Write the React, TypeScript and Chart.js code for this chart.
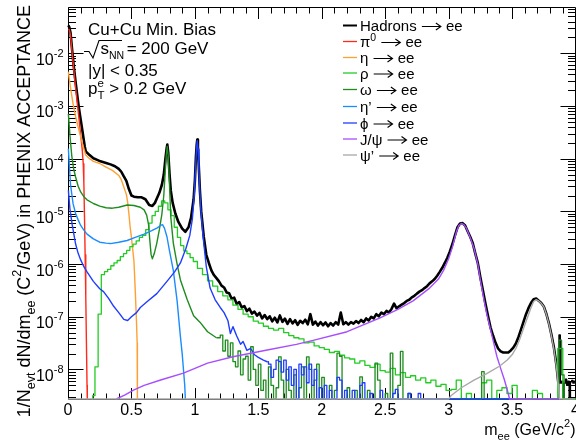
import React, { useEffect, useRef } from 'react';
import { Chart, registerables } from 'chart.js';

Chart.register(...registerables);

const FONT = '"Liberation Sans", Arial, Helvetica, sans-serif';
const X_MIN = 0;
const X_MAX = 4;
const Y_MIN = 2.75e-9;
const Y_MAX = 0.074;

// ---------------- data (m_ee in GeV/c^2, yield) ----------------
const hadronsMass = [0.003, 0.01, 0.02, 0.033, 0.045, 0.059, 0.072, 0.085, 0.1, 0.112, 0.124, 0.132, 0.14, 0.17, 0.2, 0.23, 0.256, 0.3, 0.335, 0.37, 0.4, 0.42, 0.44, 0.46, 0.48, 0.5, 0.52, 0.55, 0.58, 0.61, 0.64, 0.665, 0.685, 0.7, 0.72, 0.74, 0.755, 0.768, 0.778, 0.783, 0.79, 0.8, 0.81, 0.825, 0.846, 0.87, 0.9, 0.925, 0.95, 0.97, 0.99, 1.0, 1.008, 1.014, 1.019, 1.024, 1.03, 1.04, 1.05, 1.07, 1.09, 1.11,
  1.13, 1.15, 1.17, 1.19, 1.21, 1.23, 1.25, 1.27, 1.29, 1.31, 1.33, 1.35, 1.37, 1.39, 1.41, 1.43, 1.45, 1.47, 1.49, 1.51, 1.53, 1.55, 1.57, 1.59, 1.61, 1.63, 1.65, 1.67, 1.69, 1.71, 1.73, 1.75, 1.77, 1.79, 1.81, 1.83, 1.85, 1.87, 1.89, 1.91, 1.93, 1.95, 1.97, 1.99,
  2.01, 2.03, 2.05, 2.07, 2.09, 2.11, 2.13, 2.15, 2.17, 2.19, 2.21, 2.23, 2.25, 2.27, 2.29, 2.31, 2.33, 2.35, 2.37, 2.39, 2.41, 2.43, 2.45, 2.47, 2.49, 2.51, 2.53, 2.55, 2.57, 2.59, 2.61, 2.63, 2.65, 2.67, 2.69, 2.71, 2.73, 2.75, 2.77, 2.79, 2.81, 2.83, 2.85, 2.87, 2.89, 2.91, 2.93, 2.95, 2.97, 2.99,
  3.01, 3.03, 3.05, 3.07, 3.09, 3.11, 3.13, 3.15, 3.17, 3.19, 3.21, 3.23, 3.25, 3.27, 3.29, 3.31, 3.33, 3.35, 3.37, 3.39, 3.41, 3.43, 3.45, 3.47, 3.49, 3.51, 3.53, 3.55, 3.57, 3.59, 3.61, 3.63, 3.65, 3.67, 3.69, 3.71, 3.73, 3.75, 3.77, 3.79, 3.81, 3.83, 3.85, 3.865];
const hadronsValue = [3.4e-2, 3.15e-2, 2.45e-2, 1.12e-2, 5.8e-3, 2.95e-3, 1.65e-3, 9.5e-4, 5.5e-4, 3.6e-4, 2.3e-4, 1.7e-4, 1.38e-4, 1.17e-4, 1.02e-4, 9.5e-5, 8.9e-5, 8.3e-5, 7.8e-5, 7.2e-5, 6.4e-5, 5.65e-5, 4.6e-5, 3.8e-5, 2.65e-5, 2.0e-5, 1.9e-5, 1.85e-5, 1.85e-5, 1.7e-5, 1.32e-5, 1.27e-5, 1.45e-5, 1.75e-5, 2.25e-5, 3.2e-5, 5.0e-5, 1.0e-4, 1.6e-4, 1.85e-4, 1.3e-4, 5.2e-5, 2.5e-5, 1.45e-5, 9.1e-6, 6.3e-6, 4.7e-6, 4.1e-6, 5.0e-6, 7.6e-6, 1.7e-5, 3.8e-5, 1.05e-4, 1.8e-4, 2.3e-4, 1.7e-4, 8.0e-5, 2.4e-5, 1.0e-5, 3.3e-6, 1.5e-6, 1.05e-6,
  7.6e-7, 6.2e-7, 5.4e-7, 4.7e-7, 3.9e-7, 3.6e-7, 2.9e-7, 2.8e-7, 2.2e-7, 2.3e-7, 1.75e-7, 1.9e-7, 1.5e-7, 1.6e-7, 1.28e-7, 1.42e-7, 1.15e-7, 1.25e-7, 1.05e-7, 1.18e-7, 9.3e-8, 1.08e-7, 9.0e-8, 1.02e-7, 8.2e-8, 9.6e-8, 7.8e-8, 1.06e-7, 8.0e-8, 9.2e-8, 7.3e-8, 9.0e-8, 7.5e-8, 8.6e-8, 7.0e-8, 8.4e-8, 7.6e-8, 8.8e-8, 7.2e-8, 1.12e-7, 7.1e-8, 8.1e-8, 6.8e-8, 7.9e-8,
  6.9e-8, 7.8e-8, 6.6e-8, 7.6e-8, 6.8e-8, 7.9e-8, 7.1e-8, 1.2e-7, 7.2e-8, 7.9e-8, 7.1e-8, 7.9e-8, 7.4e-8, 8.3e-8, 7.6e-8, 8.7e-8, 7.9e-8, 9.3e-8, 8.5e-8, 1.0e-7, 9.3e-8, 1.12e-7, 1.02e-7, 1.2e-7, 1.12e-7, 1.29e-7, 1.2e-7, 1.41e-7, 1.78e-7, 1.45e-7, 1.58e-7, 1.7e-7, 1.82e-7, 2.0e-7, 2.1e-7, 2.34e-7, 2.5e-7, 2.75e-7, 3.0e-7, 3.2e-7, 3.5e-7, 3.8e-7, 4.3e-7, 4.7e-7, 5.2e-7, 6.0e-7, 7.1e-7, 8.5e-7, 1.05e-6, 1.32e-6,
  1.74e-6, 2.4e-6, 3.5e-6, 5.0e-6, 5.9e-6, 6.0e-6, 5.4e-6, 4.2e-6, 3.3e-6, 2.5e-6, 1.6e-6, 1.05e-6, 5.6e-7, 3.2e-7, 1.78e-7, 1.05e-7, 6.3e-8, 4.4e-8, 3.2e-8, 2.5e-8, 2.2e-8, 2.1e-8, 2.1e-8, 2.1e-8, 2.3e-8, 2.6e-8, 3.1e-8, 4.1e-8, 5.7e-8, 8.0e-8, 1.12e-7, 1.47e-7, 1.84e-7, 2.16e-7, 2.22e-7, 2.02e-7, 1.82e-7, 1.57e-7, 1.14e-7, 7.6e-8, 4.6e-8, 2.6e-8, 1.2e-8, 5.5e-9];
const hadronsTailMass = [3.865, 3.875, 3.885, 3.895, 3.905, 3.915, 3.925, 3.935, 3.945, 3.955, 3.965, 3.975, 3.985, 3.995];
const hadronsTailValue = [5.5e-9, 4.5e-8, 5.5e-9, 6.0e-9, 0, 5.5e-9, 6.5e-9, 5.0e-9, 6.0e-9, 0, 5.8e-9, 6.2e-9, 5.5e-9, 6.0e-9];

const pi0Mass = [0.003, 0.01, 0.02, 0.033, 0.045, 0.059, 0.072, 0.085, 0.1, 0.112, 0.12, 0.125, 0.13, 0.135, 0.14, 0.145, 0.15, 0.152];
const pi0Value = [2.9e-2, 2.8e-2, 2.2e-2, 1.0e-2, 5.0e-3, 2.3e-3, 1.2e-3, 6.3e-4, 2.8e-4, 1.5e-4, 8.0e-5, 3.5e-5, 8.0e-6, 1.5e-6, 2.5e-7, 3.5e-8, 5.0e-9, 0];

const etaMass = [0.003, 0.01, 0.02, 0.04, 0.06, 0.08, 0.1, 0.12, 0.14, 0.17, 0.2, 0.25, 0.3, 0.35, 0.4, 0.42, 0.44, 0.46, 0.47, 0.48, 0.49, 0.5, 0.51, 0.52, 0.53, 0.54, 0.545, 0.547];
const etaValue = [4.5e-3, 3.3e-3, 2.2e-3, 1.1e-3, 6.3e-4, 4.0e-4, 2.6e-4, 1.7e-4, 1.17e-4, 1.0e-4, 8.9e-5, 8.1e-5, 6.9e-5, 6.0e-5, 4.8e-5, 4.0e-5, 2.9e-5, 2.1e-5, 1.5e-5, 9.0e-6, 5.0e-6, 3.2e-6, 1.9e-6, 1.12e-6, 3.2e-7, 7.9e-8, 3.2e-8, 0];

const rhoMass = [0.19, 0.2, 0.225, 0.25, 0.275, 0.3, 0.325, 0.35, 0.375, 0.4, 0.425, 0.45, 0.475, 0.5, 0.525, 0.55, 0.575, 0.6, 0.625, 0.65, 0.675, 0.7, 0.725, 0.75, 0.775, 0.8, 0.825, 0.85, 0.875, 0.9, 0.925, 0.95, 0.975, 1.0,
  1.04, 1.08, 1.12, 1.16, 1.2, 1.24, 1.28, 1.32, 1.36, 1.4, 1.44, 1.48, 1.52, 1.56, 1.6, 1.64, 1.68, 1.72, 1.76, 1.8, 1.84, 1.88, 1.92, 1.96, 2.0, 2.04, 2.08, 2.12, 2.16, 2.2, 2.24, 2.28, 2.32, 2.36, 2.4, 2.44, 2.48, 2.52, 2.56, 2.6, 2.64, 2.68, 2.72, 2.76, 2.8, 2.84, 2.88, 2.92, 2.96,
  3.0, 3.04, 3.08, 3.12, 3.16, 3.2, 3.24, 3.28, 3.32, 3.36, 3.4, 3.44, 3.48, 3.52, 3.56, 3.6, 3.64, 3.68, 3.72, 3.76, 3.8, 3.84, 3.88, 3.92, 4.0];
const rhoValue = [0, 3.2e-9, 1.12e-8, 1.12e-7, 6.3e-7, 7.2e-7, 7.9e-7, 9.3e-7, 1.05e-6, 1.17e-6, 1.38e-6, 1.58e-6, 1.82e-6, 2.14e-6, 2.4e-6, 2.75e-6, 3.2e-6, 3.5e-6, 4.5e-6, 6.0e-6, 8.3e-6, 1.0e-5, 1.25e-5, 1.58e-5, 1.45e-5, 1.07e-5, 8.3e-6, 5.0e-6, 3.2e-6, 2.24e-6, 1.78e-6, 1.58e-6, 1.32e-6, 1.12e-6,
  8.3e-7, 6.3e-7, 4.8e-7, 3.8e-7, 3.0e-7, 2.5e-7, 2.1e-7, 1.66e-7, 1.38e-7, 1.12e-7, 1.0e-7, 8.3e-8, 7.6e-8, 6.6e-8, 6.0e-8, 5.6e-8, 6.0e-8, 5.0e-8, 4.4e-8, 4.0e-8, 3.8e-8, 3.2e-8, 3.3e-8, 2.8e-8, 2.6e-8, 2.4e-8, 2.1e-8, 2.2e-8, 1.86e-8, 1.66e-8, 1.58e-8, 1.32e-8, 1.45e-8, 1.2e-8, 1.1e-8, 1.26e-8, 9.5e-9, 8.9e-9, 1.05e-8, 7.9e-9, 8.7e-9, 7.1e-9, 7.6e-9, 6.3e-9, 6.9e-9, 5.6e-9, 6.3e-9, 4.8e-9, 5.2e-9,
  4.0e-9, 4.2e-9, 6.3e-9, 0, 3.5e-9, 0, 0, 5.6e-9, 6.3e-9, 0, 4.0e-9, 4.5e-9, 3.5e-9, 5.0e-9, 0, 0, 0, 4.0e-9, 3.5e-9, 0, 0, 0, 2.5e-8, 0, 0];

const omegaMass = [0.003, 0.015, 0.03, 0.045, 0.06, 0.08, 0.1, 0.125, 0.15, 0.2, 0.25, 0.3, 0.35, 0.4, 0.466, 0.52, 0.57, 0.6, 0.62, 0.635, 0.645, 0.655, 0.665, 0.68, 0.7, 0.72, 0.74, 0.755, 0.765, 0.775, 0.782, 0.79, 0.8, 0.81, 0.83, 0.86, 0.886, 0.94, 0.99, 1.04, 1.1, 1.17];
const omegaValue = [7.1e-4, 2.8e-4, 1.12e-4, 6.3e-5, 4.5e-5, 3.0e-5, 2.34e-5, 1.9e-5, 1.66e-5, 1.41e-5, 1.26e-5, 1.17e-5, 1.15e-5, 1.2e-5, 1.32e-5, 1.29e-5, 1.2e-5, 1.07e-5, 8.5e-6, 5.6e-6, 2.8e-6, 1.51e-6, 1.26e-6, 1.58e-6, 2.5e-6, 4.5e-6, 8.9e-6, 2.0e-5, 5.0e-5, 1.2e-4, 1.7e-4, 1.12e-4, 3.2e-5, 7.9e-6, 2.5e-6, 1.0e-6, 5.0e-7, 2.1e-7, 1.05e-7, 7.9e-8, 5.2e-8, 4.0e-8];
const omegaTailMass = [1.17, 1.19, 1.21, 1.23, 1.25, 1.27, 1.29, 1.31, 1.33, 1.35, 1.37, 1.39, 1.41, 1.43, 1.45, 1.47, 1.49, 1.51, 1.53, 1.55, 1.57, 1.59, 1.61, 1.63, 1.65, 1.67, 1.69, 1.71, 1.73, 1.75, 1.77, 1.79, 1.81, 1.83, 1.85, 1.87, 1.89, 1.91, 1.93, 1.95, 1.97, 1.99,
  2.01, 2.03, 2.05, 2.07, 2.09, 2.11, 2.13, 2.15, 2.17, 2.19, 2.21, 2.23, 2.25, 2.27, 2.29, 2.31, 2.33, 2.35, 2.37, 2.39, 2.41, 2.43, 2.45, 2.47, 2.49, 2.51, 2.53, 2.55, 2.57, 2.59, 2.61, 2.63, 2.65, 2.67, 2.69, 2.71, 3.25, 3.27, 3.29, 3.86, 3.88, 3.9, 3.92, 4.0];
const omegaTailValue = [4.0e-8, 4.0e-8, 4.5e-8, 2.24e-8, 3.6e-8, 1.78e-8, 3.2e-8, 1.41e-8, 1.12e-8, 2.24e-8, 7.9e-9, 1.58e-8, 1.78e-8, 6.3e-9, 2.7e-8, 1.0e-8, 5.0e-9, 1.26e-8, 4.0e-9, 6.3e-9, 0, 1.12e-8, 5.0e-9, 0, 4.5e-9, 1.74e-8, 6.3e-9, 0, 1.0e-8, 4.0e-9, 0, 7.9e-9, 0, 4.5e-9, 1.12e-8, 0, 1.74e-8, 1.0e-8, 0, 6.3e-9, 1.26e-8, 0,
  7.1e-9, 0, 0, 5.0e-9, 0, 4.0e-9, 2.04e-8, 1.78e-8, 0, 0, 4.5e-9, 0, 0, 4.0e-9, 0, 7.2e-9, 0, 0, 4.0e-9, 0, 0, 1.32e-8, 6.3e-9, 0, 0, 3.5e-9, 0, 2.04e-8, 0, 0, 5.0e-9, 2.2e-8, 0, 0, 3.5e-9, 0, 0, 9.1e-9, 0, 0, 3.6e-8, 7.9e-9, 0, 0];

const etaPrimeMass = [0.003, 0.01, 0.02, 0.04, 0.06, 0.08, 0.1, 0.125, 0.15, 0.2, 0.25, 0.3, 0.335, 0.4, 0.466, 0.53, 0.6, 0.66, 0.7, 0.73, 0.745, 0.76, 0.78, 0.8, 0.83, 0.86, 0.886, 0.9, 0.91, 0.92, 0.925];
const etaPrimeValue = [1.55e-4, 7.9e-5, 3.2e-5, 1.4e-5, 9.1e-6, 6.9e-6, 5.4e-6, 4.4e-6, 3.7e-6, 3.0e-6, 2.6e-6, 2.5e-6, 2.45e-6, 2.6e-6, 2.8e-6, 3.2e-6, 3.7e-6, 4.3e-6, 4.8e-6, 5.4e-6, 5.6e-6, 4.8e-6, 3.3e-6, 1.78e-6, 7.6e-7, 2.0e-7, 4.2e-8, 2.0e-8, 1.0e-8, 5.0e-9, 0];

const phiMass = [0.003, 0.015, 0.033, 0.06, 0.08, 0.1, 0.125, 0.15, 0.2, 0.25, 0.28, 0.32, 0.36, 0.4, 0.44, 0.47, 0.5, 0.54, 0.57, 0.62, 0.7, 0.78, 0.84, 0.886, 0.93, 0.96, 0.98, 0.995, 1.005, 1.013, 1.019, 1.025, 1.032, 1.045, 1.06, 1.07, 1.09, 1.12, 1.16, 1.2, 1.23, 1.26, 1.28, 1.3, 1.33, 1.36, 1.38, 1.41, 1.44, 1.47, 1.5, 1.54, 1.57];
const phiValue = [2.5e-5, 1.12e-5, 5.6e-6, 2.4e-6, 1.6e-6, 1.2e-6, 8.9e-7, 7.1e-7, 4.7e-7, 3.4e-7, 3.0e-7, 2.24e-7, 1.58e-7, 1.2e-7, 8.9e-8, 8.5e-8, 1.0e-7, 1.2e-7, 1.5e-7, 1.9e-7, 2.75e-7, 4.7e-7, 7.1e-7, 1.05e-6, 2.0e-6, 3.5e-6, 7.1e-6, 2.0e-5, 6.3e-5, 1.58e-4, 2.2e-4, 1.51e-4, 5.6e-5, 1.26e-5, 4.5e-6, 2.5e-6, 8.9e-7, 3.5e-7, 2.1e-7, 1.5e-7, 1.2e-7, 8.5e-8, 4.8e-8, 6.5e-8, 4.3e-8, 3.0e-8, 3.4e-8, 2.3e-8, 2.5e-8, 1.9e-8, 1.7e-8, 1.5e-8, 1.4e-8];
const phiTailMass = [1.57, 1.59, 1.61, 1.63, 1.65, 1.67, 1.69, 1.71, 1.73, 1.75, 1.77, 1.79, 1.81, 1.83, 1.85, 1.87, 1.89, 1.91, 1.93, 1.95, 1.97, 1.99, 2.01, 2.03, 2.05, 2.07, 2.09, 2.11, 2.13, 2.15, 2.17, 2.19, 2.21, 2.23, 2.25, 2.27, 2.29, 2.31, 2.33, 2.35, 2.37, 2.39, 2.41, 2.43, 2.45, 2.47, 2.49, 2.51, 2.53, 2.55, 2.57, 2.59, 2.61, 2.63, 2.65, 2.67, 2.69, 2.71, 2.73, 2.75, 2.77, 2.79, 3.5];
const phiTailValue = [1.4e-8, 1.26e-8, 7.1e-9, 1.0e-8, 1.51e-8, 1.41e-8, 8.9e-9, 1.51e-8, 6.3e-9, 1.12e-8, 5.0e-9, 1.0e-8, 0, 1.26e-8, 7.9e-9, 1.12e-8, 5.6e-9, 1.26e-8, 5.0e-9, 1.0e-8, 0, 4.5e-9, 0, 5.0e-9, 0, 4.0e-9, 0, 0, 7.1e-9, 6.3e-9, 0, 4.0e-9, 0, 0, 4.0e-9, 0, 0, 5.0e-9, 5.6e-9, 0, 0, 3.5e-9, 0, 0, 0, 4.0e-9, 0, 0, 0, 0, 3.5e-9, 4.2e-9, 0, 0, 0, 0, 3.5e-9, 0, 0, 0, 3.5e-9, 0, 0];

const jpsiMass = [0.38, 0.45, 0.52, 0.6, 0.73, 0.91, 1.1, 1.3, 1.57, 1.8, 1.94, 2.2, 2.46, 2.6, 2.72, 2.85, 2.92, 2.96, 3.0, 3.03, 3.06, 3.08, 3.1, 3.12, 3.14, 3.17, 3.2, 3.23, 3.25, 3.28, 3.3, 3.35, 3.38, 3.41, 3.44, 3.47, 3.48, 3.88];
const jpsiValue = [0, 3.3e-9, 4.1e-9, 5.0e-9, 6.3e-9, 8.5e-9, 1.32e-8, 1.74e-8, 2.34e-8, 3.0e-8, 3.6e-8, 5.2e-8, 9.5e-8, 1.38e-7, 2.0e-7, 3.5e-7, 5.2e-7, 7.6e-7, 1.26e-6, 2.1e-6, 4.0e-6, 5.4e-6, 5.9e-6, 5.6e-6, 4.8e-6, 3.2e-6, 2.0e-6, 1.0e-6, 5.0e-7, 2.0e-7, 1.15e-7, 3.6e-8, 1.78e-8, 1.05e-8, 6.3e-9, 3.5e-9, 0, 0];

const psiPrimeMass = [0.0, 3.0, 3.02, 3.1, 3.2, 3.3, 3.4, 3.46, 3.5, 3.53, 3.56, 3.59, 3.62, 3.65, 3.67, 3.69, 3.71, 3.73, 3.75, 3.77, 3.79, 3.81, 3.83, 3.85, 3.865, 3.875, 4.0];
const psiPrimeValue = [0, 0, 3.2e-9, 4.5e-9, 6.3e-9, 8.3e-9, 1.15e-8, 1.5e-8, 1.9e-8, 2.5e-8, 3.7e-8, 6.0e-8, 9.5e-8, 1.5e-7, 1.95e-7, 2.12e-7, 2.0e-7, 1.8e-7, 1.55e-7, 1.12e-7, 7.4e-8, 4.4e-8, 2.4e-8, 1.12e-8, 5.0e-9, 0, 0];

const xTickValues = [0, 0.5, 1, 1.5, 2, 2.5, 3, 3.5, 4];
const xTickLabels = ['0', '0.5', '1', '1.5', '2', '2.5', '3', '3.5', '4'];
const yTickExponents = [-8, -7, -6, -5, -4, -3, -2];
const yTickLabels = ['-8', '-7', '-6', '-5', '-4', '-3', '-2'];

const infoLines = ['Cu+Cu Min. Bias', '= 200 GeV', '|y| < 0.35', '> 0.2 GeV'];

// ---------------- styling ----------------
const C_HAD = '#000000';
const C_PI0 = '#ff2a1a';
const C_ETA = '#ffa033';
const C_RHO = '#22cc22';
const C_OMEGA = '#1e8c1e';
const C_ETAP = '#1a8cff';
const C_PHI = '#1f3dff';
const C_JPSI = '#a64dff';
const C_PSIP = '#a8a8a8';

type Seg = { t?: string; s?: number; dy?: number; hold?: boolean; arrow?: number };

const legendEntries: { segs: Seg[]; color: string; w: number }[] = [
  { segs: [{ t: 'Hadrons ' }, { arrow: 21 }, { t: ' ee' }], color: C_HAD, w: 2 },
  { segs: [{ t: 'π' }, { t: '0', s: 10.5, dy: -6 }, { t: ' ' }, { arrow: 21 }, { t: ' ee' }], color: C_PI0, w: 1.3 },
  { segs: [{ t: 'η ' }, { arrow: 21 }, { t: ' ee' }], color: C_ETA, w: 1.3 },
  { segs: [{ t: 'ρ ' }, { arrow: 21 }, { t: ' ee' }], color: C_RHO, w: 1.3 },
  { segs: [{ t: 'ω ' }, { arrow: 21 }, { t: ' ee' }], color: C_OMEGA, w: 1.3 },
  { segs: [{ t: 'η’ ' }, { arrow: 21 }, { t: ' ee' }], color: C_ETAP, w: 1.3 },
  { segs: [{ t: 'ϕ ' }, { arrow: 21 }, { t: ' ee' }], color: C_PHI, w: 1.3 },
  { segs: [{ t: 'J/ψ ' }, { arrow: 21 }, { t: ' ee' }], color: C_JPSI, w: 1.3 },
  { segs: [{ t: 'ψ’ ' }, { arrow: 21 }, { t: ' ee' }], color: C_PSIP, w: 1.3 },
];
const legendRowY = [25, 41, 57, 72.5, 89, 106, 122.5, 138.5, 154.5];

function drawSegs(ctx: CanvasRenderingContext2D, x: number, y: number, segs: Seg[], base: number, draw = true) {
  let cx = x;
  for (const g of segs) {
    if (g.arrow) {
      if (draw) {
        const ay = y - base * 0.3;
        const e = cx + g.arrow - 1;
        ctx.save();
        ctx.strokeStyle = '#000';
        ctx.lineWidth = 1.1;
        ctx.beginPath();
        ctx.moveTo(cx + 1, ay); ctx.lineTo(e, ay);
        ctx.moveTo(e - 5, ay - 3.5); ctx.lineTo(e, ay); ctx.lineTo(e - 5, ay + 3.5);
        ctx.stroke();
        ctx.restore();
      }
      cx += g.arrow;
      continue;
    }
    const t = g.t ?? '';
    ctx.font = `${g.s ?? base}px ${FONT}`;
    if (draw) ctx.fillText(t, cx, y + (g.dy ?? 0));
    if (!g.hold) cx += ctx.measureText(t).width;
  }
  return cx - x;
}

function points(ms: number[], vs: number[]) {
  return ms.map((m, i) => ({ x: m, y: vs[i] > 0 ? vs[i] : Y_MIN }));
}

function line(ms: number[], vs: number[], color: string, width: number, order: number, stepped = false) {
  return {
    data: points(ms, vs),
    borderColor: color,
    backgroundColor: color,
    borderWidth: width,
    pointRadius: 0,
    fill: false,
    tension: 0,
    stepped: stepped ? 'middle' : false,
    order,
    borderJoinStyle: 'round',
    clip: { left: 1, top: 1, right: 1, bottom: 2 },
  };
}

const rootPlugin = {
  id: 'rootStyle',
  beforeDatasetsDraw(chart: any) {
    const ctx: CanvasRenderingContext2D = chart.ctx;
    const { left, right, top, bottom } = chart.chartArea;
    const xs = chart.scales.x;
    const ys = chart.scales.y;
    const L = Math.floor(left) + 0.5;
    const R = Math.floor(right) + 0.5;
    const T = Math.floor(top) + 0.5;
    const B = Math.floor(bottom) + 0.5;
    ctx.save();
    ctx.strokeStyle = '#000';
    ctx.lineWidth = 1;
    ctx.beginPath();
    ctx.moveTo(L, T); ctx.lineTo(R, T); ctx.lineTo(R, B); ctx.lineTo(L, B); ctx.closePath();
    for (let i = 0; i <= 40; i++) {
      const px = Math.round(xs.getPixelForValue(i / 10)) + 0.5;
      const len = i % 5 === 0 ? 11.5 : 6;
      ctx.moveTo(px, B); ctx.lineTo(px, B - len);
      ctx.moveTo(px, T); ctx.lineTo(px, T + len);
    }
    for (let d = -9; d <= -1; d++) {
      for (let k = 1; k <= 9; k++) {
        const v = k * Math.pow(10, d);
        if (v < Y_MIN || v > Y_MAX) continue;
        const py = Math.round(ys.getPixelForValue(v)) + 0.5;
        const len = k === 1 ? 15 : 7.5;
        ctx.moveTo(L, py); ctx.lineTo(L + len, py);
        ctx.moveTo(R, py); ctx.lineTo(R - len, py);
      }
    }
    ctx.stroke();
    ctx.restore();
  },
  afterDraw(chart: any) {
    const ctx: CanvasRenderingContext2D = chart.ctx;
    const xs = chart.scales.x;
    const ys = chart.scales.y;
    ctx.save();
    ctx.fillStyle = '#000';
    ctx.textBaseline = 'alphabetic';

    // x tick labels
    ctx.font = `16px ${FONT}`;
    ctx.textAlign = 'center';
    xTickValues.forEach((v, i) => {
      ctx.fillText(xTickLabels[i], xs.getPixelForValue(v), 415);
    });

    // y tick labels
    ctx.textAlign = 'right';
    yTickExponents.forEach((e, i) => {
      const py = ys.getPixelForValue(Math.pow(10, e));
      ctx.font = `11px ${FONT}`;
      const ew = ctx.measureText(yTickLabels[i]).width;
      ctx.fillText(yTickLabels[i], 63.5, py + 3.5);
      ctx.font = `16px ${FONT}`;
      ctx.fillText('10', 63.5 - ew, py + 11.5);
    });
    ctx.textAlign = 'left';

    // x title
    const xt: Seg[] = [{ t: 'm' }, { t: 'ee', s: 11, dy: 4.5 }, { t: ' (GeV/c' }, { t: '2', s: 11, dy: -8 }, { t: ')' }];
    const xw = drawSegs(ctx, 0, 0, xt, 16, false);
    drawSegs(ctx, 575.5 - xw, 435, xt, 16);

    // y title
    const yt: Seg[] = [{ t: '1/N' }, { t: 'evt', s: 12.5, dy: 5 }, { t: ' dN/dm' }, { t: 'ee', s: 12.5, dy: 5 }, { t: ' (C' }, { t: '2', s: 12.5, dy: -8.5 }, { t: '/GeV) in PHENIX ACCEPTANCE' }];
    const yw = drawSegs(ctx, 0, 0, yt, 18, false);
    ctx.save();
    ctx.translate(29.5, 5 + yw);
    ctx.rotate(-Math.PI / 2);
    drawSegs(ctx, 0, 0, yt, 18);
    ctx.restore();

    // info text
    ctx.font = `17px ${FONT}`;
    ctx.fillText(infoLines[0], 88, 35);
    ctx.lineWidth = 1.1;
    ctx.strokeStyle = '#000';
    ctx.beginPath();
    ctx.moveTo(84, 51.5); ctx.lineTo(89, 51.5); ctx.lineTo(93, 58); ctx.lineTo(99, 40.5); ctx.lineTo(122, 40.5);
    ctx.stroke();
    const sw = drawSegs(ctx, 100.5, 53.5, [{ t: 's' }, { t: 'NN', s: 10.5, dy: 5 }], 17);
    ctx.font = `17px ${FONT}`;
    ctx.fillText(infoLines[1], Math.max(125, 100.5 + sw + 2.5), 53.5);
    ctx.fillText(infoLines[2], 88, 76);
    drawSegs(ctx, 88, 94, [{ t: 'p' }, { t: 'e', s: 11.5, dy: -7.5, hold: true }, { t: 'T', s: 11.5, dy: 5 }, { t: ' ' + infoLines[3] }], 17);

    // legend
    legendEntries.forEach((en, i) => {
      const y = legendRowY[i];
      ctx.strokeStyle = en.color;
      ctx.lineWidth = en.w;
      ctx.beginPath();
      ctx.moveTo(343, y + 0.5); ctx.lineTo(357, y + 0.5);
      ctx.stroke();
      ctx.fillStyle = '#000';
      drawSegs(ctx, 360, y + 6, en.segs, 15);
    });
    ctx.restore();
  },
};

export default function App() {
  const ref = useRef<HTMLCanvasElement>(null);
  useEffect(() => {
    if (!ref.current) return;
    const datasets: any[] = [
      line(psiPrimeMass, psiPrimeValue, C_PSIP, 1.4, 0),
      line(jpsiMass, jpsiValue, C_JPSI, 1.4, 1),
      line(phiMass, phiValue, C_PHI, 1.4, 2),
      line(phiTailMass, phiTailValue, C_PHI, 1.3, 2, true),
      line(etaPrimeMass, etaPrimeValue, C_ETAP, 1.4, 3),
      line(omegaMass, omegaValue, C_OMEGA, 1.4, 4),
      line(omegaTailMass, omegaTailValue, C_OMEGA, 1.3, 4, true),
      line(rhoMass, rhoValue, C_RHO, 1.3, 5, true),
      line(etaMass, etaValue, C_ETA, 1.4, 6),
      line(pi0Mass, pi0Value, C_PI0, 1.4, 7),
      line(hadronsMass, hadronsValue, C_HAD, 2.6, 8),
      line(hadronsTailMass, hadronsTailValue, C_HAD, 1.4, 8, true),
    ];
    const chart = new Chart(ref.current, {
      type: 'line',
      data: { datasets },
      options: {
        animation: false,
        responsive: false,
        devicePixelRatio: 1,
        layout: { padding: { left: 68, right: 0.5, top: 7.5, bottom: 47 } },
        scales: {
          x: { type: 'linear', min: X_MIN, max: X_MAX, display: false },
          y: { type: 'logarithmic', min: Y_MIN, max: Y_MAX, display: false },
        },
        plugins: { legend: { display: false }, tooltip: { enabled: false } },
        elements: { point: { radius: 0 } },
      },
      plugins: [rootPlugin],
    } as any);
    return () => chart.destroy();
  }, []);
  return (
    <div style={{ position: 'fixed', left: 0, top: 0, width: 576, height: 446, background: '#fff' }}>
      <canvas ref={ref} width={576} height={446} style={{ display: 'block' }} />
    </div>
  );
}
